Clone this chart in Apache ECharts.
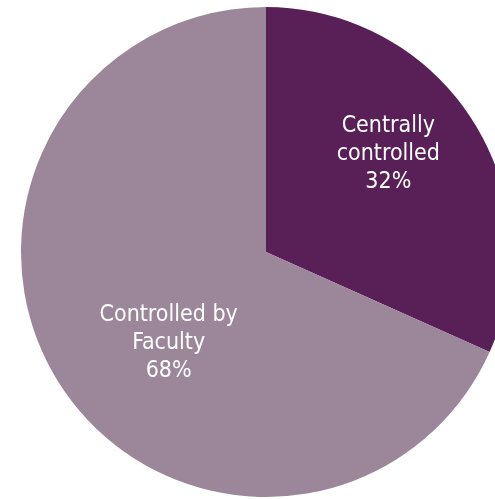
<!DOCTYPE html>
<html>
<head>
<meta charset="utf-8">
<script src="https://cdn.jsdelivr.net/npm/echarts@6/dist/echarts.min.js"></script>
<style>
html,body{margin:0;padding:0;background:#fff;}
#chart{width:495px;height:499px;}
</style>
</head>
<body>
<div id="chart"></div>
<script>
var categories = ['Centrally\ncontrolled', 'Controlled by\nFaculty'];
var values = [31.7, 68.3];
var colors = ['#582057', '#9b8799'];
var labelOffsets = [[17, -30], [8, 23]];

var chart = echarts.init(document.getElementById('chart'), null, {renderer: 'canvas'});
chart.setOption({
  animation: false,
  series: [{
    type: 'pie',
    center: [266, 252],
    radius: 245,
    startAngle: 90,
    clockwise: true,
    percentPrecision: 0,
    label: {
      show: true,
      position: 'inside',
      formatter: '{b}\n{d}%',
      color: '#ffffff',
      fontFamily: '"DejaVu Sans Condensed", "DejaVu Sans", sans-serif',
      fontStretch: 'condensed',
      fontSize: 23,
      lineHeight: 28
    },
    labelLine: {show: false},
    itemStyle: {borderWidth: 0},
    emphasis: {disabled: true},
    data: categories.map(function (c, i) {
      return {name: c, value: values[i], itemStyle: {color: colors[i]},
              label: {offset: labelOffsets[i]}};
    })
  }]
});
</script>
</body>
</html>
